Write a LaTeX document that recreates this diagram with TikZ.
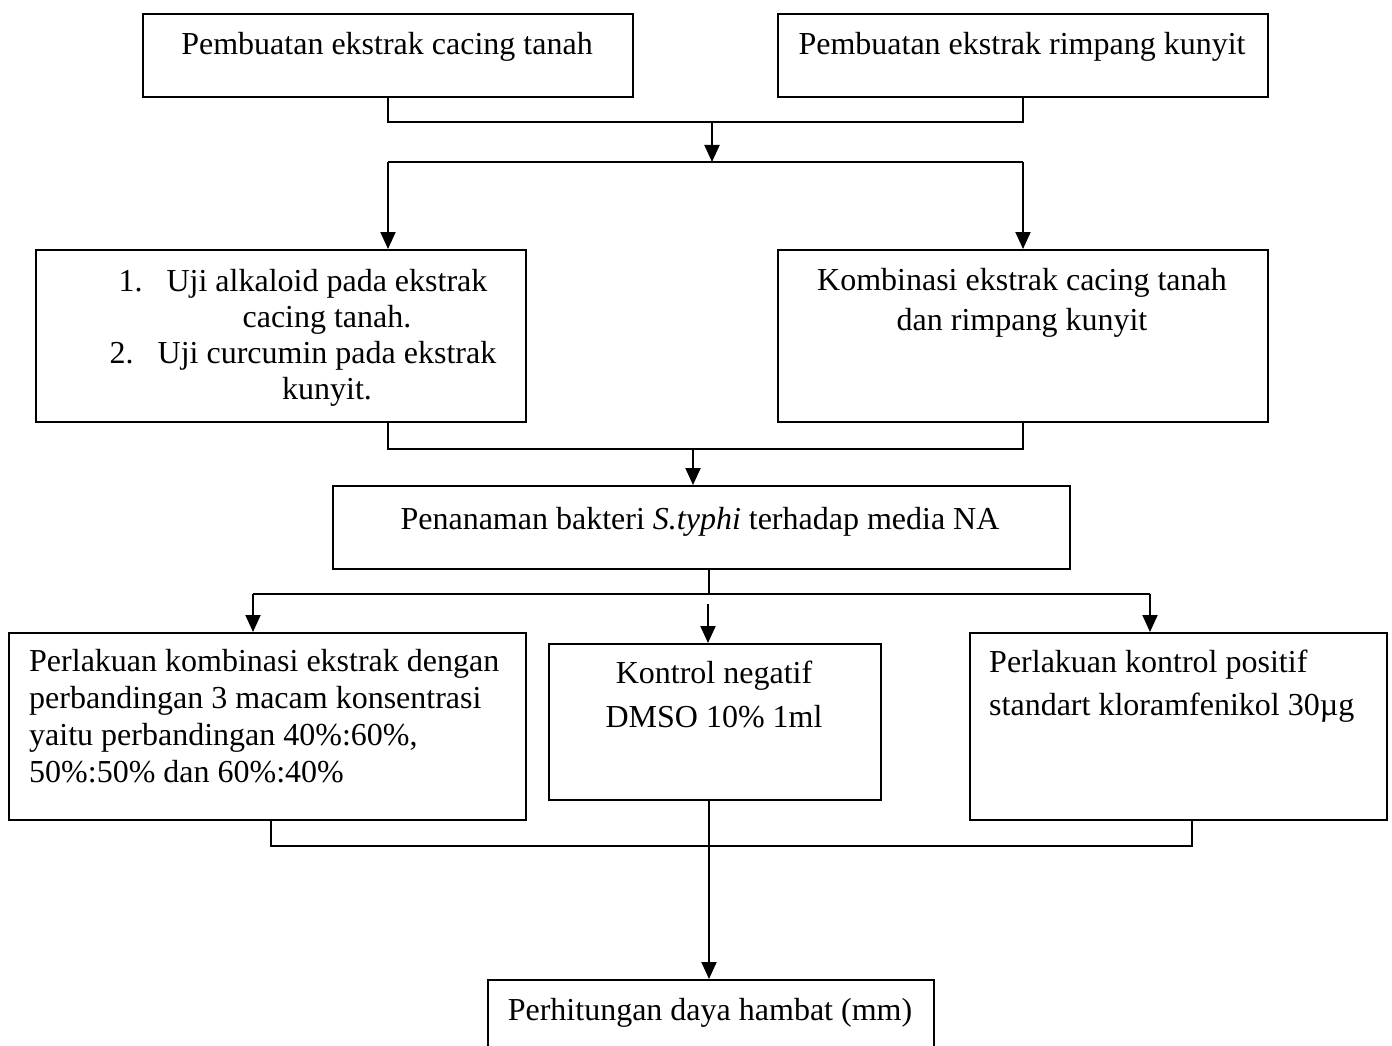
\documentclass[tikz,border=0pt]{standalone}
\usepackage{fontspec}
\setmainfont{Liberation Serif}
\usetikzlibrary{arrows.meta}
\tikzstyle{flowbox}=[rectangle,draw=black,line width=2pt,
                     inner sep=0pt,anchor=north west]
\tikzstyle{flowtext}=[inner sep=0pt,font=\fontsize{32}{36}\selectfont]
\tikzstyle{flowline}=[line width=2pt]
\tikzstyle{flowarrow}=[line width=2pt,-{Triangle[length=17pt,width=15pt]}]

\begin{document}
\begin{tikzpicture}[x=1pt,y=-1pt]
    \clip (0,0) rectangle (1392,1046);
    % boxes
    \node (b1) at (142,13)  [flowbox,minimum width=490pt,minimum height=83pt]{};
    \node (b2) at (777,13)  [flowbox,minimum width=490pt,minimum height=83pt]{};
    \node (b3) at (35,249)  [flowbox,minimum width=490pt,minimum height=172pt]{};
    \node (b4) at (777,249) [flowbox,minimum width=490pt,minimum height=172pt]{};
    \node (b5) at (332,485) [flowbox,minimum width=737pt,minimum height=83pt]{};
    \node (b6) at (8,632)   [flowbox,minimum width=517pt,minimum height=187pt]{};
    \node (b7) at (548,643) [flowbox,minimum width=332pt,minimum height=156pt]{};
    \node (b8) at (969,632) [flowbox,minimum width=417pt,minimum height=187pt]{};
    \node (b9) at (487,979) [flowbox,minimum width=446pt,minimum height=120pt]{};
    % texts (base = last line)
    \node (t1) at (387,55) [flowtext,anchor=base]{Pembuatan ekstrak cacing tanah};
    \node (t2) at (1022,55) [flowtext,anchor=base]{Pembuatan ekstrak rimpang kunyit};
    \node (t3) at (327,399) [flowtext,anchor=base,align=center]
        {\llap{1.\hspace{24pt}}Uji alkaloid pada ekstrak\\cacing tanah.\\
         \llap{2.\hspace{24pt}}Uji curcumin pada ekstrak\\kunyit.};
    \node (t4) at (1022,330) [flowtext,anchor=base,align=center,
        font=\fontsize{32}{40}\selectfont]{Kombinasi ekstrak cacing tanah\\dan rimpang kunyit};
    \node (t5) at (700,529) [flowtext,anchor=base]
        {Penanaman bakteri \textit{S.typhi} terhadap media NA};
    \node (t6) at (29,782) [flowtext,anchor=base west,align=left,
        font=\fontsize{32}{36.7}\selectfont]{Perlakuan kombinasi ekstrak dengan\\
        perbandingan 3 macam konsentrasi\\yaitu perbandingan 40\%:60\%,\\50\%:50\% dan 60\%:40\%};
    \node (t7) at (714,727) [flowtext,anchor=base,align=center,
        font=\fontsize{32}{44}\selectfont]{Kontrol negatif\\DMSO 10\%\ 1ml};
    \node (t8) at (989,715) [flowtext,anchor=base west,align=left,
        font=\fontsize{32}{43}\selectfont]{Perlakuan kontrol positif\\standart kloramfenikol 30µg};
    \node (t9) at (710,1020) [flowtext,anchor=base]{Perhitungan daya hambat (mm)};
    % junctions
    \coordinate (j1) at (712,122);
    \coordinate (j2) at (712,162);
    \coordinate (j3) at (693,449);
    \coordinate (j4) at (709,594);
    \coordinate (j5) at (253,594);
    \coordinate (j6) at (1150,594);
    \coordinate (j7) at (708,604);
    \coordinate (j8) at (271,846);
    \coordinate (j9) at (1192,846);
    % connectors
    \draw[flowline] (b1.south) -- (b1.south |- j1) -- (b2.south |- j1) -- (b2.south);
    \draw[flowarrow] (j1) -- (j2);
    \draw[flowline] (b1.south |- j2) -- (b2.south |- j2);
    \draw[flowarrow] (b1.south |- j2) -- (b1.south |- b3.north);
    \draw[flowarrow] (b2.south |- j2) -- (b4.north);
    \draw[flowline] (b1.south |- b3.south) -- (b1.south |- j3) -- (b4.south |- j3) -- (b4.south);
    \draw[flowarrow] (j3) -- (j3 |- b5.north);
    \draw[flowline] (j4 |- b5.south) -- (j4);
    \draw[flowline] (j5) -- (j6);
    \draw[flowarrow] (j5) -- (j5 |- b6.north);
    \draw[flowarrow] (j7) -- (j7 |- b7.north);
    \draw[flowarrow] (j6) -- (j6 |- b8.north);
    \draw[flowline] (j8 |- b6.south) -- (j8) -- (j9) -- (j9 |- b8.south);
    \draw[flowarrow] (j4 |- b7.south) -- (j4 |- b9.north);
\end{tikzpicture}
\end{document}
